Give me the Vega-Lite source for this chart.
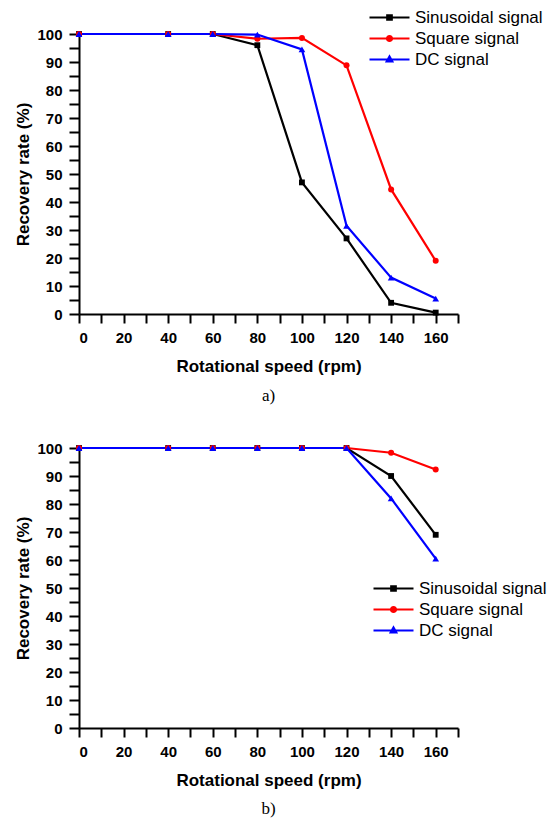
{
  "$schema": "https://vega.github.io/schema/vega-lite/v6.json",
  "padding": {"left": 14, "top": 9, "right": 0, "bottom": 5},
  "background": "white",
  "config": {
    "view": {"stroke": null},
    "axis": {
      "domainColor": "black", "domainWidth": 2, "tickColor": "black", "tickWidth": 2,
      "labelFont": "Liberation Sans", "labelFontWeight": "bold", "labelFontSize": 15, "labelColor": "black",
      "titleFont": "Liberation Sans", "titleFontWeight": "bold", "titleFontSize": 17, "titleColor": "black",
      "grid": false
    },
    "legend": {"padding": 0}
  },
  "datasets": {
    "a": [
      {"speed": 0, "rate": 100, "signal": "Sinusoidal signal"},
      {"speed": 40, "rate": 100, "signal": "Sinusoidal signal"},
      {"speed": 60, "rate": 100, "signal": "Sinusoidal signal"},
      {"speed": 80, "rate": 96, "signal": "Sinusoidal signal"},
      {"speed": 100, "rate": 47, "signal": "Sinusoidal signal"},
      {"speed": 120, "rate": 27, "signal": "Sinusoidal signal"},
      {"speed": 140, "rate": 4, "signal": "Sinusoidal signal"},
      {"speed": 160, "rate": 0.5, "signal": "Sinusoidal signal"},
      {"speed": 0, "rate": 100, "signal": "Square signal"},
      {"speed": 40, "rate": 100, "signal": "Square signal"},
      {"speed": 60, "rate": 100, "signal": "Square signal"},
      {"speed": 80, "rate": 98.3, "signal": "Square signal"},
      {"speed": 100, "rate": 98.6, "signal": "Square signal"},
      {"speed": 120, "rate": 88.8, "signal": "Square signal"},
      {"speed": 140, "rate": 44.5, "signal": "Square signal"},
      {"speed": 160, "rate": 19, "signal": "Square signal"},
      {"speed": 0, "rate": 100, "signal": "DC signal"},
      {"speed": 40, "rate": 100, "signal": "DC signal"},
      {"speed": 60, "rate": 100, "signal": "DC signal"},
      {"speed": 80, "rate": 99.8, "signal": "DC signal"},
      {"speed": 100, "rate": 94.5, "signal": "DC signal"},
      {"speed": 120, "rate": 31.5, "signal": "DC signal"},
      {"speed": 140, "rate": 13, "signal": "DC signal"},
      {"speed": 160, "rate": 5.5, "signal": "DC signal"}
    ],
    "b": [
      {"speed": 0, "rate": 100, "signal": "Sinusoidal signal"},
      {"speed": 40, "rate": 100, "signal": "Sinusoidal signal"},
      {"speed": 60, "rate": 100, "signal": "Sinusoidal signal"},
      {"speed": 80, "rate": 100, "signal": "Sinusoidal signal"},
      {"speed": 100, "rate": 100, "signal": "Sinusoidal signal"},
      {"speed": 120, "rate": 100, "signal": "Sinusoidal signal"},
      {"speed": 140, "rate": 90, "signal": "Sinusoidal signal"},
      {"speed": 160, "rate": 69, "signal": "Sinusoidal signal"},
      {"speed": 0, "rate": 100, "signal": "Square signal"},
      {"speed": 40, "rate": 100, "signal": "Square signal"},
      {"speed": 60, "rate": 100, "signal": "Square signal"},
      {"speed": 80, "rate": 100, "signal": "Square signal"},
      {"speed": 100, "rate": 100, "signal": "Square signal"},
      {"speed": 120, "rate": 100, "signal": "Square signal"},
      {"speed": 140, "rate": 98.3, "signal": "Square signal"},
      {"speed": 160, "rate": 92.3, "signal": "Square signal"},
      {"speed": 0, "rate": 100, "signal": "DC signal"},
      {"speed": 40, "rate": 100, "signal": "DC signal"},
      {"speed": 60, "rate": 100, "signal": "DC signal"},
      {"speed": 80, "rate": 100, "signal": "DC signal"},
      {"speed": 100, "rate": 100, "signal": "DC signal"},
      {"speed": 120, "rate": 100, "signal": "DC signal"},
      {"speed": 140, "rate": 82, "signal": "DC signal"},
      {"speed": 160, "rate": 60.5, "signal": "DC signal"}
    ]
  },
  "spacing": 37,
  "resolve": {"scale": {"color": "independent"}, "legend": {"color": "independent"}},
  "vconcat": [
    {
      "width": 379, "height": 280,
      "data": {"name": "a"},
      "title": {"text": "a)", "orient": "bottom", "font": "Liberation Serif", "fontSize": 17, "fontWeight": "normal", "color": "black", "offset": 14},
      "encoding": {
        "x": {"field": "speed", "type": "quantitative", "scale": {"domain": [0, 170], "nice": false},
          "axis": {"title": "Rotational speed (rpm)", "values": [0,10,20,30,40,50,60,70,80,90,100,110,120,130,140,150,160,170],
            "labelExpr": "datum.value % 20 === 0 && datum.value < 170 ? datum.label : ''", "tickSize": 9, "labelPadding": 7, "titlePadding": 13,
            "encode": {"ticks": {"update": {"y2": {"signal": "datum.value % 20 === 0 ? 9 : 5"}}}}}},
        "y": {"field": "rate", "type": "quantitative", "scale": {"domain": [0, 100], "nice": false},
          "axis": {"title": "Recovery rate (%)", "values": [0,5,10,15,20,25,30,35,40,45,50,55,60,65,70,75,80,85,90,95,100],
            "labelExpr": "datum.value % 10 === 0 ? datum.label : ''", "tickSize": 10, "labelPadding": 7, "titlePadding": 4,
            "encode": {"ticks": {"update": {"x2": {"signal": "datum.value % 10 === 0 ? -10 : -6"}}}}}}
      },
      "layer": [
        {"mark": {"type": "line", "strokeWidth": 2.2},
          "encoding": {"color": {"field": "signal", "type": "nominal",
            "scale": {"domain": ["Sinusoidal signal", "Square signal", "DC signal"], "range": ["#000000", "#ff0000", "#0000ff"]},
            "legend": {"title": null, "orient": "none", "legendX": 302, "legendY": -25,
              "labelFont": "Liberation Sans", "labelFontSize": 17, "labelColor": "black", "labelOffset": 17,
              "symbolSize": 100, "symbolStrokeWidth": 2.2, "rowPadding": 3,
              "symbolType": "M-4,0H4M-0.4,-0.4H0.4V0.4H-0.4Z",
              "encode": {"symbols": {"update": {
                "shape": {"signal": "datum.value === 'Sinusoidal signal' ? 'M-4,0H4M-0.45,-0.45H0.45V0.45H-0.45Z' : datum.value === 'Square signal' ? 'M-4,0H4M-0.5,0A0.5,0.5,0,1,1,0.5,0A0.5,0.5,0,1,1,-0.5,0Z' : 'M-4,0H4M0,-0.6L0.55,0.4L-0.55,0.4Z'"},
                "fill": {"signal": "datum.value === 'Sinusoidal signal' ? '#000000' : datum.value === 'Square signal' ? '#ff0000' : '#0000ff'"}
              }}}}}}},
        {"transform": [{"filter": "datum.signal === 'Sinusoidal signal'"}],
          "mark": {"type": "point", "filled": true, "opacity": 1, "size": 34, "shape": "square"},
          "encoding": {"color": {"field": "signal", "type": "nominal", "legend": null}}},
        {"transform": [{"filter": "datum.signal === 'Square signal'"}],
          "mark": {"type": "point", "filled": true, "opacity": 1, "size": 36, "shape": "circle"},
          "encoding": {"color": {"field": "signal", "type": "nominal", "legend": null}}},
        {"transform": [{"filter": "datum.signal === 'DC signal'"}],
          "mark": {"type": "point", "filled": true, "opacity": 1, "size": 45, "shape": "triangle-up"},
          "encoding": {"color": {"field": "signal", "type": "nominal", "legend": null}}}
      ]
    },
    {
      "width": 379, "height": 280,
      "data": {"name": "b"},
      "title": {"text": "b)", "orient": "bottom", "font": "Liberation Serif", "fontSize": 17, "fontWeight": "normal", "color": "black", "offset": 13},
      "encoding": {
        "x": {"field": "speed", "type": "quantitative", "scale": {"domain": [0, 170], "nice": false},
          "axis": {"title": "Rotational speed (rpm)", "values": [0,10,20,30,40,50,60,70,80,90,100,110,120,130,140,150,160,170],
            "labelExpr": "datum.value % 20 === 0 && datum.value < 170 ? datum.label : ''", "tickSize": 9, "labelPadding": 7, "titlePadding": 13,
            "encode": {"ticks": {"update": {"y2": {"signal": "datum.value % 20 === 0 ? 9 : 5"}}}}}},
        "y": {"field": "rate", "type": "quantitative", "scale": {"domain": [0, 100], "nice": false},
          "axis": {"title": "Recovery rate (%)", "values": [0,5,10,15,20,25,30,35,40,45,50,55,60,65,70,75,80,85,90,95,100],
            "labelExpr": "datum.value % 10 === 0 ? datum.label : ''", "tickSize": 10, "labelPadding": 7, "titlePadding": 4,
            "encode": {"ticks": {"update": {"x2": {"signal": "datum.value % 10 === 0 ? -10 : -6"}}}}}}
      },
      "layer": [
        {"mark": {"type": "line", "strokeWidth": 2.2},
          "encoding": {"color": {"field": "signal", "type": "nominal",
            "scale": {"domain": ["Sinusoidal signal", "Square signal", "DC signal"], "range": ["#000000", "#ff0000", "#0000ff"]},
            "legend": {"title": null, "orient": "none", "legendX": 306, "legendY": 132,
              "labelFont": "Liberation Sans", "labelFontSize": 17, "labelColor": "black", "labelOffset": 17,
              "symbolSize": 100, "symbolStrokeWidth": 2.2, "rowPadding": 3,
              "symbolType": "M-4,0H4M-0.4,-0.4H0.4V0.4H-0.4Z",
              "encode": {"symbols": {"update": {
                "shape": {"signal": "datum.value === 'Sinusoidal signal' ? 'M-4,0H4M-0.45,-0.45H0.45V0.45H-0.45Z' : datum.value === 'Square signal' ? 'M-4,0H4M-0.5,0A0.5,0.5,0,1,1,0.5,0A0.5,0.5,0,1,1,-0.5,0Z' : 'M-4,0H4M0,-0.6L0.55,0.4L-0.55,0.4Z'"},
                "fill": {"signal": "datum.value === 'Sinusoidal signal' ? '#000000' : datum.value === 'Square signal' ? '#ff0000' : '#0000ff'"}
              }}}}}}},
        {"transform": [{"filter": "datum.signal === 'Sinusoidal signal'"}],
          "mark": {"type": "point", "filled": true, "opacity": 1, "size": 34, "shape": "square"},
          "encoding": {"color": {"field": "signal", "type": "nominal", "legend": null}}},
        {"transform": [{"filter": "datum.signal === 'Square signal'"}],
          "mark": {"type": "point", "filled": true, "opacity": 1, "size": 36, "shape": "circle"},
          "encoding": {"color": {"field": "signal", "type": "nominal", "legend": null}}},
        {"transform": [{"filter": "datum.signal === 'DC signal'"}],
          "mark": {"type": "point", "filled": true, "opacity": 1, "size": 45, "shape": "triangle-up"},
          "encoding": {"color": {"field": "signal", "type": "nominal", "legend": null}}}
      ]
    }
  ]
}
